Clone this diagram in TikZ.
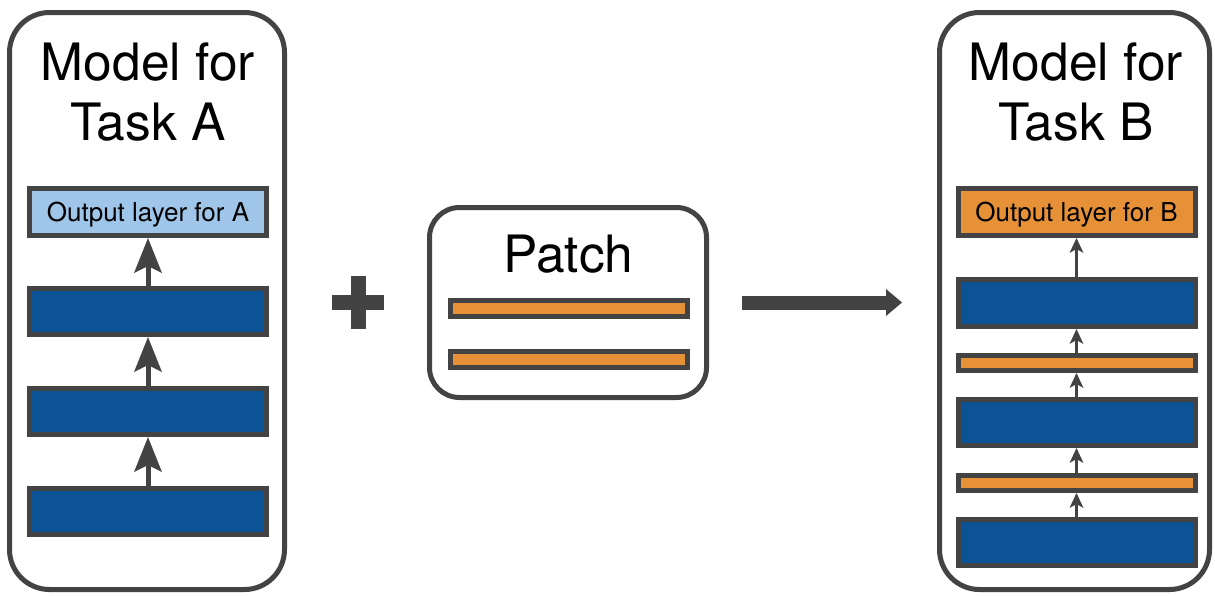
\documentclass[tikz,border=0pt]{standalone}
\usepackage{fontspec}
\setmainfont{TeX Gyre Heros}
\usetikzlibrary{arrows.meta}
\definecolor{edgegray}{HTML}{434343}
\definecolor{layerblue}{HTML}{0B5394}
\definecolor{lightblue}{HTML}{9FC5E8}
\definecolor{patchorange}{HTML}{E69138}
\begin{document}
\begin{tikzpicture}[x=1pt,y=-1pt,
  panel/.style={draw=edgegray, line width=5pt, rounded corners=40pt, fill=white, inner sep=0pt},
  titletext/.style={font=\fontsize{51.5}{60}\selectfont, align=center, inner sep=0pt, anchor=north},
  layerbox/.style={draw=edgegray, line width=5pt, inner sep=0pt, minimum width=237pt},
  bluelayer/.style={layerbox, fill=layerblue, minimum height=46pt},
  outlayer/.style={layerbox, minimum height=47pt, font=\fontsize{26}{30}\selectfont, text height=18.7pt, text depth=0pt},
  thinlayer/.style={layerbox, fill=patchorange, minimum height=15pt},
  bigarrow/.style={draw=edgegray, line width=5pt, -{Stealth[length=35pt,width=28pt,inset=7pt,line width=0pt]}},
  smallarrow/.style={draw=edgegray, line width=2.5pt, -{Stealth[length=15pt,width=14pt,inset=4pt,line width=0pt]}},
]
\useasboundingbox (0,0) rectangle (1215,595);

% Model A
\node[panel, minimum width=275pt, minimum height=577pt] (modelA) at (147,301) {};
\node[titletext] (titleA) at (148,42.5) {Model for\\Task A};
\node[outlayer, fill=lightblue] (outA) at (148,212) {Output layer for A};
\node[bluelayer] (a1) at (148,311.5) {};
\node[bluelayer] (a2) at (148,411.5) {};
\node[bluelayer] (a3) at (148,511.5) {};
\draw[bigarrow] (a3.north) -- (a2.south);
\draw[bigarrow] (a2.north) -- (a1.south);
\draw[bigarrow] (a1.north) -- (outA.south);

% plus
\fill[edgegray] (332,295) rectangle (384,309.5);
\fill[edgegray] (351,276) rectangle (366,329);

% Patch
\node[panel, rounded corners=30pt, minimum width=277pt, minimum height=190pt] (patch) at (568,302.5) {};
\node[font=\fontsize{51.5}{60}\selectfont, inner sep=0pt, anchor=base] (patchtitle) at (568.5,272) {Patch};
\node[layerbox, fill=patchorange, minimum height=16pt] (p1) at (568.5,308.5) {};
\node[layerbox, fill=patchorange, minimum height=16pt] (p2) at (568.5,359.5) {};

% arrow
\coordinate (arrstart) at ([xshift=33pt]patch.east);
\coordinate (arrend) at (902,302.5);
\draw[edgegray, line width=14pt, -{Triangle[length=16pt,width=27pt,line width=0pt]}] (arrstart) -- (arrend);

% Model B
\node[panel, minimum width=270pt, minimum height=577pt] (modelB) at (1074.5,301) {};
\node[titletext] (titleB) at (1076,42.5) {Model for\\Task B};
\node[outlayer, fill=patchorange] (outB) at (1076.5,212) {Output layer for B};
\node[bluelayer, minimum height=47pt] (b1) at (1076.5,303) {};
\node[thinlayer] (o1) at (1076.5,363) {};
\node[bluelayer] (b2) at (1076.5,422.5) {};
\node[thinlayer] (o2) at (1076.5,483) {};
\node[bluelayer] (b3) at (1076.5,542.5) {};
\draw[smallarrow] (b3.north) -- (o2.south);
\draw[smallarrow] (o2.north) -- (b2.south);
\draw[smallarrow] (b2.north) -- (o1.south);
\draw[smallarrow] (o1.north) -- (b1.south);
\draw[smallarrow] (b1.north) -- (outB.south);
\end{tikzpicture}
\end{document}
